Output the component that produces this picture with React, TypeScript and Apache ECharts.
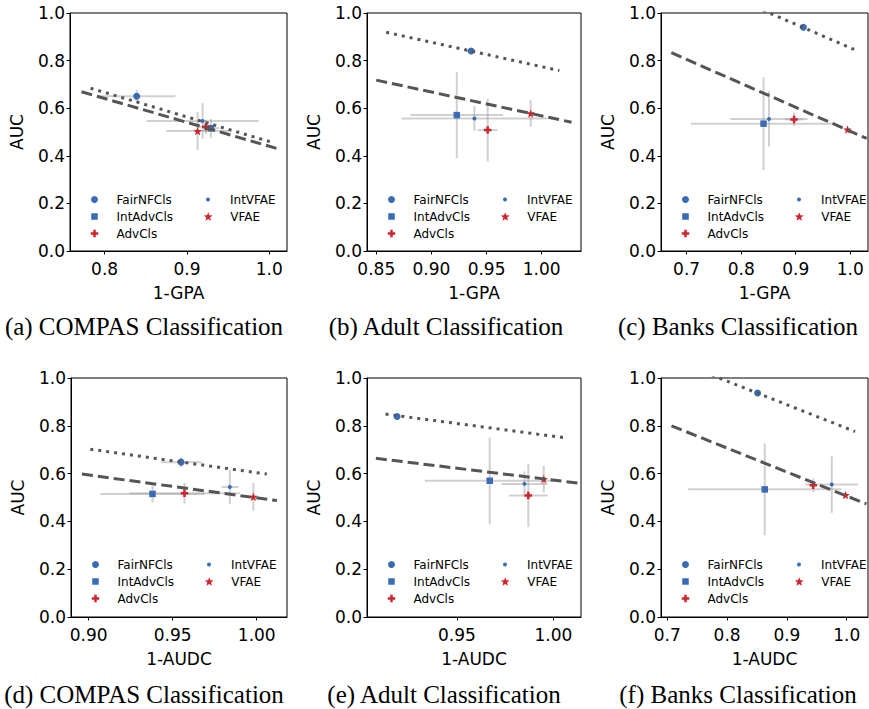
import React, { useEffect, useRef } from 'react';
import * as echarts from 'echarts';

const methods = ['FairNFCls', 'IntAdvCls', 'AdvCls', 'IntVFAE', 'VFAE'];
const yTickLabels = ['0.0', '0.2', '0.4', '0.6', '0.8', '1.0'];

// (a) COMPAS, 1-GPA
const compasGpaX = [0.839, 0.929, 0.923, 0.919, 0.913];
const compasGpaY = [0.65, 0.516, 0.522, 0.546, 0.504];
const compasGpaXErr = [0.047, 0.01, 0.01, 0.068, 0.038];
const compasGpaYErr = [0.027, 0.04, 0.03, 0.075, 0.08];
const compasGpaDotted = [[0.783, 0.684], [1.001, 0.459]];
const compasGpaDashed = [[0.772, 0.669], [1.009, 0.431]];
const compasGpaTicks = ['0.8', '0.9', '1.0'];

// (b) Adult, 1-GPA
const adultGpaX = [0.936, 0.923, 0.951, 0.939, 0.99];
const adultGpaY = [0.84, 0.571, 0.508, 0.557, 0.578];
const adultGpaXErr = [0.004, 0.042, 0.009, 0.066, 0.003];
const adultGpaYErr = [0.01, 0.181, 0.132, 0.052, 0.056];
const adultGpaDotted = [[0.859, 0.919], [1.016, 0.758]];
const adultGpaDashed = [[0.85, 0.718], [1.027, 0.541]];
const adultGpaTicks = ['0.85', '0.90', '0.95', '1.00'];

// (c) Banks, 1-GPA
const banksGpaX = [0.914, 0.841, 0.897, 0.851, 0.995];
const banksGpaY = [0.94, 0.535, 0.553, 0.555, 0.51];
const banksGpaXErr = [0.005, 0.133, 0.017, 0.071, 0.005];
const banksGpaYErr = [0.01, 0.195, 0.028, 0.116, 0.01];
const banksGpaDotted = [[0.8, 1.051], [1.009, 0.845]];
const banksGpaDashed = [[0.672, 0.833], [1.03, 0.473]];
const banksGpaTicks = ['0.7', '0.8', '0.9', '1.0'];

// (d) COMPAS, 1-AUDC
const compasAudcX = [0.955, 0.938, 0.957, 0.984, 0.998];
const compasAudcY = [0.648, 0.515, 0.518, 0.544, 0.503];
const compasAudcXErr = [0.012, 0.031, 0.033, 0.005, 0.002];
const compasAudcYErr = [0.02, 0.035, 0.043, 0.072, 0.058];
const compasAudcDotted = [[0.901, 0.702], [1.006, 0.598]];
const compasAudcDashed = [[0.896, 0.598], [1.012, 0.487]];
const compasAudcTicks = ['0.90', '0.95', '1.00'];

// (e) Adult, 1-AUDC
const adultAudcX = [0.919, 0.967, 0.987, 0.985, 0.995];
const adultAudcY = [0.839, 0.57, 0.508, 0.557, 0.577];
const adultAudcXErr = [0.001, 0.0336, 0.01, 0.012, 0.001];
const adultAudcYErr = [0.008, 0.181, 0.132, 0.052, 0.056];
const adultAudcDotted = [[0.913, 0.849], [1.005, 0.751]];
const adultAudcDashed = [[0.908, 0.664], [1.013, 0.56]];
const adultAudcTicks = ['0.95', '1.00'];

// (f) Banks, 1-AUDC
const banksAudcX = [0.851, 0.863, 0.944, 0.975, 0.998];
const banksAudcY = [0.937, 0.534, 0.551, 0.554, 0.51];
const banksAudcXErr = [0.003, 0.128, 0.004, 0.044, 0.003];
const banksAudcYErr = [0.008, 0.192, 0.028, 0.118, 0.01];
const banksAudcDotted = [[0.75, 1.036], [1.014, 0.776]];
const banksAudcDashed = [[0.707, 0.8], [1.033, 0.473]];
const banksAudcTicks = ['0.7', '0.8', '0.9', '1.0'];

const captions = [
  '(a) COMPAS Classification',
  '(b) Adult Classification',
  '(c) Banks Classification',
  '(d) COMPAS Classification',
  '(e) Adult Classification',
  '(f) Banks Classification',
];

// star marker shape
const starPath = (() => {
  let d = '';
  for (let i = 0; i < 10; i++) {
    const a = (-90 + i * 36) * Math.PI / 180;
    const r = i % 2 ? 0.42 : 1;
    d += (i === 0 ? 'M' : 'L') + (r * Math.cos(a)).toFixed(4) + ',' + (r * Math.sin(a)).toFixed(4);
  }
  return 'path://' + d + 'Z';
})();
const plusPath = 'path://M-1,-3L1,-3L1,-1L3,-1L3,1L1,1L1,3L-1,3L-1,1L-3,1L-3,-1L-1,-1Z';
const squarePath = 'path://M0,0L1,0L1,1L0,1Z';

const BLUE = '#3a6bb5';
const RED = '#d1242c';
const markerStyles = [
  { symbol: 'circle', size: 7, color: BLUE },
  { symbol: squarePath, size: 6.5, color: BLUE },
  { symbol: plusPath, size: 7.5, color: RED },
  { symbol: 'circle', size: 4, color: BLUE },
  { symbol: starPath, size: 8.5, color: RED },
];

const panels = [
  { x: compasGpaX, y: compasGpaY, xe: compasGpaXErr, ye: compasGpaYErr, dot: compasGpaDotted, dash: compasGpaDashed, ticks: compasGpaTicks, xName: '1-GPA',
    L: 70, T: 13, W: 217, H: 238, min: 0.758, max: 1.0215, capX: 144, capY: 326 },
  { x: adultGpaX, y: adultGpaY, xe: adultGpaXErr, ye: adultGpaYErr, dot: adultGpaDotted, dash: adultGpaDashed, ticks: adultGpaTicks, xName: '1-GPA',
    L: 367, T: 13, W: 214, H: 238, min: 0.8416, max: 1.0356, capX: 446, capY: 326 },
  { x: banksGpaX, y: banksGpaY, xe: banksGpaXErr, ye: banksGpaYErr, dot: banksGpaDotted, dash: banksGpaDashed, ticks: banksGpaTicks, xName: '1-GPA',
    L: 661, T: 13, W: 207, H: 238, min: 0.653, max: 1.0325, capX: 738, capY: 326 },
  { x: compasAudcX, y: compasAudcY, xe: compasAudcXErr, ye: compasAudcYErr, dot: compasAudcDotted, dash: compasAudcDashed, ticks: compasAudcTicks, xName: '1-AUDC',
    L: 71, T: 378, W: 216, H: 239, min: 0.8895, max: 1.018, capX: 144, capY: 694 },
  { x: adultAudcX, y: adultAudcY, xe: adultAudcXErr, ye: adultAudcYErr, dot: adultAudcDotted, dash: adultAudcDashed, ticks: adultAudcTicks, xName: '1-AUDC',
    L: 367, T: 378, W: 214, H: 239, min: 0.9034, max: 1.0143, capX: 444, capY: 694 },
  { x: banksAudcX, y: banksAudcY, xe: banksAudcXErr, ye: banksAudcYErr, dot: banksAudcDotted, dash: banksAudcDashed, ticks: banksAudcTicks, xName: '1-AUDC',
    L: 661, T: 378, W: 207, H: 239, min: 0.6895, max: 1.0356, capX: 738, capY: 694 },
];

const legendSlots = [
  { col: 0, row: 0 }, { col: 0, row: 1 }, { col: 0, row: 2 }, { col: 1, row: 0 }, { col: 1, row: 1 },
];
const rowOffsets = [186.5, 203.5, 220.5];
const colMarkerOffsets = [24.5, 138];

function buildOption() {
  const grid: any[] = [];
  const xAxis: any[] = [];
  const yAxis: any[] = [];
  const series: any[] = [];
  const legend: any[] = [];
  const graphic: any[] = [];
  const font = 'DejaVu Sans';

  panels.forEach((p, i) => {
    grid.push({ left: p.L, top: p.T, width: p.W, height: p.H, show: true, borderColor: '#000', borderWidth: 1, backgroundColor: 'transparent' });
    const tickVals = p.ticks.map((t) => parseFloat(t));
    const dec = p.ticks[0].split('.')[1].length;
    xAxis.push({
      type: 'value', gridIndex: i, min: p.min, max: p.max,
      axisLine: { show: true, onZero: false, lineStyle: { color: '#000', width: 1 } },
      axisTick: { show: true, length: 3.5, customValues: tickVals, lineStyle: { color: '#000' } },
      axisLabel: { customValues: tickVals, formatter: (v: number) => v.toFixed(dec), fontSize: 17, color: '#000', margin: 9, fontFamily: font },
      splitLine: { show: false },
      name: p.xName, nameLocation: 'middle', nameGap: 33,
      nameTextStyle: { fontSize: 17, color: '#000', fontFamily: font },
    });
    yAxis.push({
      type: 'value', gridIndex: i, min: 0, max: 1, interval: 0.2,
      axisLine: { show: true, onZero: false, lineStyle: { color: '#000', width: 1 } },
      axisTick: { show: true, length: 3.5, lineStyle: { color: '#000' } },
      axisLabel: { formatter: (v: number) => yTickLabels[Math.round(v * 5)] ?? v.toFixed(1), fontSize: 17, color: '#000', margin: 5, fontFamily: font },
      splitLine: { show: false },
      name: 'AUC', nameLocation: 'middle', nameGap: 45,
      nameTextStyle: { fontSize: 17, color: '#000', fontFamily: font },
    });

    // error bars
    series.push({
      type: 'custom', name: 'err' + i, xAxisIndex: i, yAxisIndex: i, z: 1, silent: true,
      data: p.x.map((v, k) => [v, p.y[k], p.xe[k], p.ye[k]]),
      encode: { x: 0, y: 1 },
      renderItem: (params: any, api: any) => {
        const x = api.value(0), y = api.value(1), xe = api.value(2), ye = api.value(3);
        const a = api.coord([x - xe, y]);
        const b = api.coord([x + xe, y]);
        const c = api.coord([x, y - ye]);
        const d = api.coord([x, y + ye]);
        const style = { stroke: 'rgba(150,150,150,0.45)', lineWidth: 2, fill: 'none' };
        return {
          type: 'group',
          children: [
            { type: 'line', shape: { x1: a[0], y1: a[1], x2: b[0], y2: b[1] }, style },
            { type: 'line', shape: { x1: c[0], y1: c[1], x2: d[0], y2: d[1] }, style },
          ],
        };
      },
    });

    methods.forEach((m, k) => {
      const ms = markerStyles[k];
      series.push({
        type: 'scatter', name: m, xAxisIndex: i, yAxisIndex: i, z: 3,
        symbol: ms.symbol, symbolSize: ms.size,
        itemStyle: { color: ms.color, opacity: 1 },
        data: [[p.x[k], p.y[k]]],
      });
      const slot = legendSlots[k];
      legend.push({
        show: true, padding: 0, selectedMode: false,
        left: p.L + colMarkerOffsets[slot.col] - ms.size / 2,
        top: p.T + rowOffsets[slot.row] - 6,
        itemWidth: 34, itemHeight: ms.size, itemGap: 0,
        data: [m],
        textStyle: { fontSize: 12, lineHeight: 12, color: '#000', fontFamily: font },
      });
    });

    series.push({
      type: 'line', name: 'dotted' + i, xAxisIndex: i, yAxisIndex: i, z: 4, silent: true,
      data: p.dot, symbol: 'none', showSymbol: false,
      lineStyle: { color: '#555', width: 3, type: [3, 5] },
    });
    series.push({
      type: 'line', name: 'dashed' + i, xAxisIndex: i, yAxisIndex: i, z: 4, silent: true,
      data: p.dash, symbol: 'none', showSymbol: false,
      lineStyle: { color: '#555', width: 3, type: [11, 5] },
    });

    graphic.push({
      type: 'text', x: p.capX, y: p.capY, silent: true,
      style: {
        text: captions[i], fill: '#000', font: '25px "Liberation Serif"',
        align: 'center', verticalAlign: 'middle', textAlign: 'center', textVerticalAlign: 'middle',
      },
    });
  });

  return {
    animation: false,
    backgroundColor: '#fff',
    textStyle: { fontFamily: font },
    grid, xAxis, yAxis, series, legend, graphic,
  };
}

export default function App() {
  const ref = useRef<HTMLDivElement>(null);
  useEffect(() => {
    if (!ref.current) return;
    const chart = echarts.init(ref.current, undefined, { renderer: 'svg' });
    chart.setOption(buildOption() as any);
    return () => chart.dispose();
  }, []);
  return <div ref={ref} style={{ position: 'absolute', left: 0, top: 0, width: 869, height: 709 }} />;
}
